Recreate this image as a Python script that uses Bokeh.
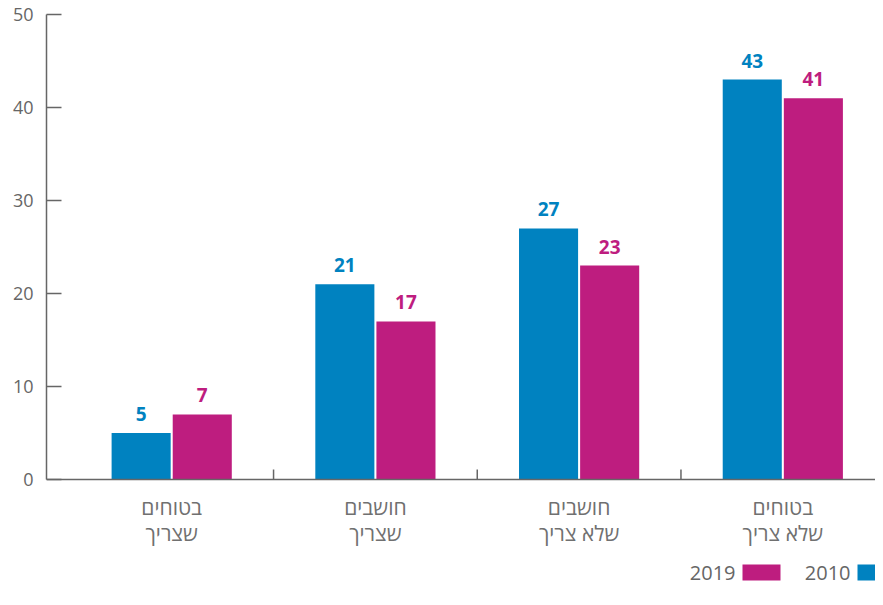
from bokeh.plotting import figure
from bokeh.embed import file_html
from bokeh.resources import INLINE
from bokeh.models import Range1d, FixedTicker, Span
from bokeh.core.properties import value

# ---- data ----
categories = ["בטוחים\nשצריך", "חושבים\nשצריך", "חושבים\nשלא צריך", "בטוחים\nשלא צריך"]
series_names = ["2010", "2019"]
values_2010 = [5, 21, 27, 43]
values_2019 = [7, 17, 23, 41]
y_ticks = [0, 10, 20, 30, 40, 50]

# ---- style ----
BLUE = "#0082c0"
MAGENTA = "#be1d7f"
GRAY = "#666666"
LABEL_GRAY = "#707070"
FONT = "Open Sans"

W, H = 875, 589
BORDER_L, BORDER_T = 46, 4
X_START, X_END = -0.6146, 3.455
Y_START, Y_END = -11.828, 51.075

frame_w = W - BORDER_L
frame_h = H - BORDER_T
PX_X = frame_w / (X_END - X_START)
PX_Y = frame_h / (Y_END - Y_START)


def px2x(px):  # canvas pixel -> data x
    return X_START + (px - BORDER_L) / PX_X


def py2y(py):  # canvas pixel -> data y
    return Y_END - (py - BORDER_T) / PX_Y


p = figure(width=W, height=H,
           x_range=Range1d(X_START, X_END), y_range=Range1d(Y_START, Y_END),
           output_backend="svg", toolbar_location=None, x_axis_location=None,
           min_border_left=BORDER_L, min_border_right=0,
           min_border_top=BORDER_T, min_border_bottom=0)
p.outline_line_color = None
p.grid.visible = False
p.background_fill_color = "white"
p.border_fill_color = "white"

# y axis
ax = p.yaxis[0]
ax.ticker = FixedTicker(ticks=y_ticks)
ax.bounds = (y_ticks[0], y_ticks[-1])
ax.major_tick_in = 15
ax.major_tick_out = 0
ax.minor_tick_line_color = None
ax.axis_line_color = GRAY
ax.axis_line_width = 1.5
ax.major_tick_line_color = GRAY
ax.major_tick_line_width = 1.5
ax.major_label_text_font = FONT
ax.major_label_text_font_size = "18px"
ax.major_label_text_color = GRAY
ax.major_label_standoff = 13

n = len(categories)
idx = list(range(n))
off = 0.15
bw = 0.29
x_a = [i - off for i in idx]
x_b = [i + off for i in idx]

p.vbar(x=x_a, top=values_2010, bottom=0, width=bw, fill_color=BLUE, line_color=None)
p.vbar(x=x_b, top=values_2019, bottom=0, width=bw, fill_color=MAGENTA, line_color=None)

# value labels
for xs, vals, col in ((x_a, values_2010, BLUE), (x_b, values_2019, MAGENTA)):
    p.text(x=xs, y=vals, text=[str(v) for v in vals], text_align="center",
           text_baseline="alphabetic", y_offset=-19, text_font=value(FONT),
           text_font_style="bold", text_font_size="19px", text_color=col)

# baseline
p.add_layout(Span(location=0, dimension="width", line_color=GRAY, line_width=1.5))

# category boundary ticks
bounds = [i + 0.5 for i in idx[:-1]]
p.segment(x0=bounds, y0=[0] * len(bounds), x1=bounds, y1=[10 / PX_Y] * len(bounds),
          line_color=GRAY, line_width=1.5)

# category labels (two lines)
line1 = [c.split("\n")[0] for c in categories]
line2 = [c.split("\n")[1] for c in categories]
for lines, dy in ((line1, 28), (line2, 54)):
    p.text(x=idx, y=[0] * n, text=lines, text_align="center", text_baseline="alphabetic",
           y_offset=dy, text_font=value(FONT), text_font_size="21px", text_color=LABEL_GRAY)

# legend (right to left: 2010 then 2019)
leg_y_text = py2y(572)
leg_y_box = py2y(572)
p.text(x=[px2x(735), px2x(850)], y=[leg_y_text] * 2, text=[series_names[1], series_names[0]],
       text_align="right", text_baseline="alphabetic", text_font=value(FONT),
       text_font_size="20px", text_color=GRAY)
p.rect(x=[px2x(761), px2x(876)], y=[leg_y_box] * 2, width=38, height=16,
       width_units="screen", height_units="screen", fill_color=[MAGENTA, BLUE], line_color=None)

open("out.html", "w").write(file_html(p, INLINE))
